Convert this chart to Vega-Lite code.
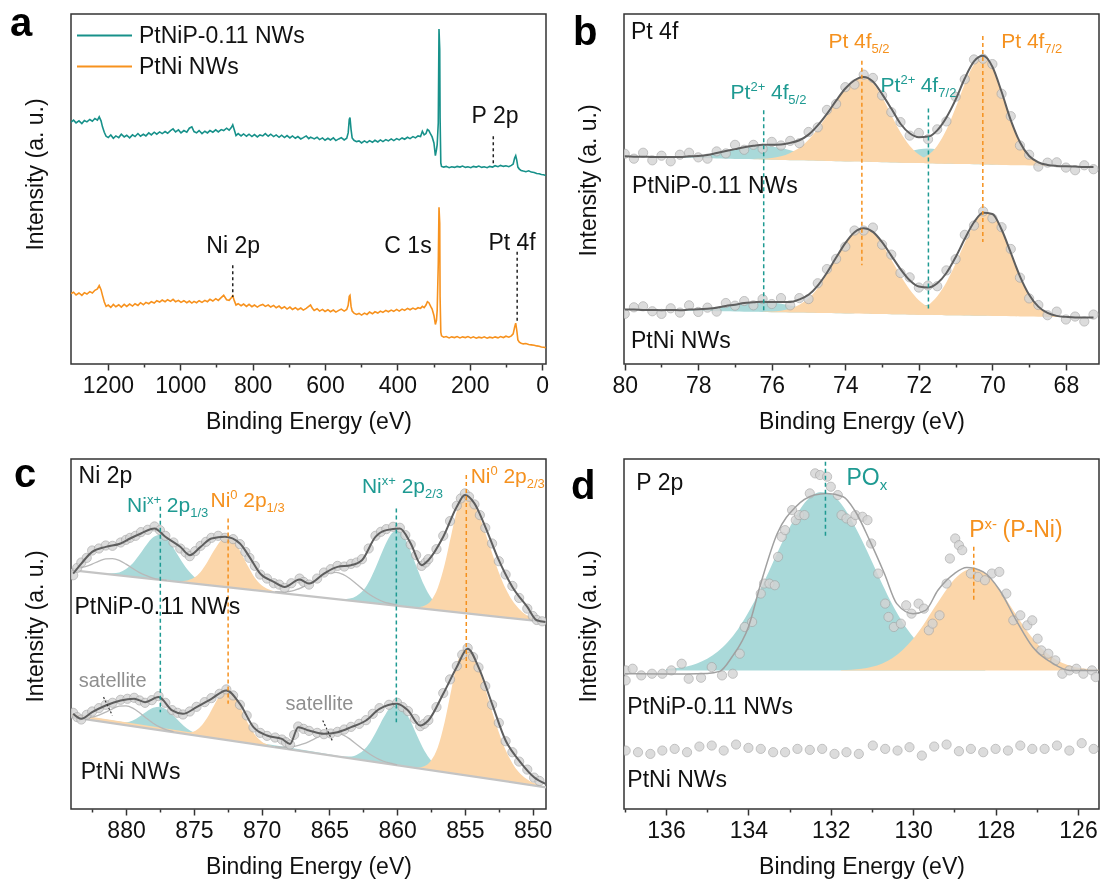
{
"$schema":"https://vega.github.io/schema/vega-lite/v6.json",
"background":"white",
"padding":{"left":9,"top":3,"right":0,"bottom":0},
"config":{
 "font":"Liberation Sans",
 "view":{"stroke":"#333333","strokeWidth":1.5},
 "axis":{"domain":false,"grid":false,"labelFontSize":23,"titleFontSize":23,"titleFontWeight":"normal","labelColor":"#111111","titleColor":"#111111","tickColor":"#333333","tickWidth":1.5,"labelPadding":4,"titlePadding":13,"labelFlush":false,"labelOverlap":false},
 "axisY":{"titlePadding":24,"labels":false,"ticks":false}
},
"resolve":{"scale":{"color":"independent","x":"independent","y":"independent"},"legend":{"color":"independent"},"axis":{"x":"independent","y":"independent"}},
"bounds":"flush",
"columns":2,
"spacing":{"row":95,"column":78},
"datasets":{
"a":[{"x":1302,"t":722,"o":210},{"x":1295,"t":728,"o":214},{"x":1288,"t":720,"o":206},{"x":1280,"t":726,"o":212},{"x":1272,"t":718,"o":205},{"x":1265,"t":727,"o":213},{"x":1258,"t":723,"o":209},{"x":1250,"t":730,"o":216},{"x":1243,"t":725,"o":212},{"x":1236,"t":733,"o":220},{"x":1229,"t":728,"o":224},{"x":1224,"t":738,"o":234},{"x":1219,"t":726,"o":222},{"x":1215,"t":708,"o":205},{"x":1210,"t":692,"o":185},{"x":1205,"t":680,"o":172},{"x":1199,"t":676,"o":176},{"x":1192,"t":684,"o":169},{"x":1185,"t":674,"o":178},{"x":1178,"t":681,"o":171},{"x":1170,"t":676,"o":177},{"x":1163,"t":686,"o":170},{"x":1155,"t":678,"o":178},{"x":1148,"t":683,"o":172},{"x":1140,"t":675,"o":179},{"x":1132,"t":684,"o":173},{"x":1125,"t":679,"o":180},{"x":1117,"t":688,"o":175},{"x":1110,"t":680,"o":183},{"x":1102,"t":686,"o":177},{"x":1095,"t":681,"o":184},{"x":1087,"t":690,"o":180},{"x":1080,"t":684,"o":186},{"x":1072,"t":692,"o":182},{"x":1065,"t":686,"o":189},{"x":1057,"t":693,"o":185},{"x":1050,"t":688,"o":191},{"x":1042,"t":694,"o":186},{"x":1035,"t":689,"o":192},{"x":1027,"t":697,"o":187},{"x":1020,"t":702,"o":193},{"x":1013,"t":693,"o":186},{"x":1005,"t":699,"o":190},{"x":998,"t":690,"o":184},{"x":990,"t":697,"o":189},{"x":982,"t":692,"o":183},{"x":975,"t":704,"o":188},{"x":968,"t":708,"o":182},{"x":962,"t":694,"o":187},{"x":955,"t":690,"o":183},{"x":948,"t":697,"o":189},{"x":940,"t":688,"o":184},{"x":932,"t":695,"o":190},{"x":925,"t":690,"o":186},{"x":918,"t":697,"o":193},{"x":910,"t":692,"o":188},{"x":902,"t":699,"o":195},{"x":895,"t":693,"o":190},{"x":887,"t":700,"o":198},{"x":880,"t":697,"o":205},{"x":872,"t":704,"o":192},{"x":865,"t":698,"o":190},{"x":859,"t":706,"o":198},{"x":855,"t":714,"o":204},{"x":851,"t":700,"o":190},{"x":846,"t":682,"o":176},{"x":840,"t":688,"o":180},{"x":832,"t":681,"o":174},{"x":825,"t":687,"o":179},{"x":817,"t":680,"o":172},{"x":810,"t":686,"o":178},{"x":802,"t":679,"o":171},{"x":795,"t":685,"o":176},{"x":787,"t":678,"o":170},{"x":780,"t":684,"o":175},{"x":772,"t":681,"o":178},{"x":765,"t":688,"o":172},{"x":757,"t":680,"o":176},{"x":750,"t":686,"o":170},{"x":742,"t":679,"o":175},{"x":735,"t":684,"o":168},{"x":727,"t":677,"o":173},{"x":720,"t":683,"o":166},{"x":712,"t":676,"o":171},{"x":705,"t":682,"o":164},{"x":697,"t":675,"o":170},{"x":690,"t":681,"o":163},{"x":682,"t":674,"o":168},{"x":675,"t":679,"o":162},{"x":667,"t":672,"o":167},{"x":660,"t":676,"o":161},{"x":652,"t":681,"o":166},{"x":645,"t":673,"o":172},{"x":640,"t":677,"o":176},{"x":635,"t":675,"o":166},{"x":630,"t":672,"o":160},{"x":622,"t":677,"o":165},{"x":615,"t":670,"o":158},{"x":607,"t":675,"o":163},{"x":600,"t":668,"o":157},{"x":592,"t":674,"o":162},{"x":585,"t":669,"o":156},{"x":577,"t":675,"o":161},{"x":570,"t":667,"o":155},{"x":562,"t":672,"o":160},{"x":555,"t":676,"o":164},{"x":547,"t":669,"o":158},{"x":540,"t":674,"o":163},{"x":536,"t":690,"o":175},{"x":533,"t":730,"o":202},{"x":531,"t":736,"o":205},{"x":528,"t":700,"o":172},{"x":525,"t":675,"o":158},{"x":520,"t":668,"o":152},{"x":513,"t":664,"o":148},{"x":506,"t":666,"o":151},{"x":499,"t":660,"o":146},{"x":491,"t":666,"o":152},{"x":484,"t":661,"o":148},{"x":477,"t":667,"o":155},{"x":469,"t":662,"o":150},{"x":462,"t":668,"o":156},{"x":454,"t":663,"o":152},{"x":447,"t":669,"o":158},{"x":440,"t":664,"o":154},{"x":432,"t":670,"o":160},{"x":425,"t":666,"o":156},{"x":417,"t":672,"o":161},{"x":410,"t":667,"o":157},{"x":402,"t":673,"o":163},{"x":395,"t":669,"o":158},{"x":387,"t":675,"o":164},{"x":380,"t":671,"o":160},{"x":372,"t":677,"o":166},{"x":365,"t":673,"o":162},{"x":357,"t":679,"o":167},{"x":350,"t":675,"o":163},{"x":343,"t":681,"o":168},{"x":336,"t":679,"o":166},{"x":331,"t":695,"o":172},{"x":326,"t":684,"o":168},{"x":321,"t":688,"o":176},{"x":317,"t":700,"o":186},{"x":313,"t":697,"o":183},{"x":308,"t":686,"o":172},{"x":304,"t":678,"o":164},{"x":299,"t":660,"o":145},{"x":295,"t":622,"o":118},{"x":292,"t":640,"o":130},{"x":290,"t":655,"o":160},{"x":287,"t":720,"o":300},{"x":285,"t":1000,"o":468},{"x":283,"t":940,"o":420},{"x":282,"t":735,"o":200},{"x":280,"t":600,"o":95},{"x":278,"t":590,"o":84},{"x":272,"t":588,"o":80},{"x":265,"t":590,"o":82},{"x":257,"t":586,"o":78},{"x":250,"t":589,"o":81},{"x":242,"t":587,"o":79},{"x":235,"t":590,"o":82},{"x":227,"t":588,"o":78},{"x":220,"t":591,"o":81},{"x":212,"t":587,"o":79},{"x":205,"t":589,"o":82},{"x":197,"t":586,"o":78},{"x":190,"t":590,"o":81},{"x":182,"t":588,"o":77},{"x":175,"t":591,"o":80},{"x":167,"t":587,"o":78},{"x":160,"t":589,"o":81},{"x":152,"t":586,"o":77},{"x":145,"t":590,"o":80},{"x":137,"t":588,"o":78},{"x":130,"t":592,"o":81},{"x":122,"t":589,"o":78},{"x":115,"t":593,"o":82},{"x":107,"t":590,"o":79},{"x":100,"t":592,"o":83},{"x":92,"t":589,"o":80},{"x":85,"t":593,"o":84},{"x":80,"t":597,"o":90},{"x":76,"t":615,"o":110},{"x":73,"t":622,"o":122},{"x":70,"t":608,"o":100},{"x":67,"t":588,"o":72},{"x":63,"t":582,"o":65},{"x":58,"t":578,"o":62},{"x":52,"t":576,"o":60},{"x":45,"t":574,"o":61},{"x":37,"t":577,"o":58},{"x":30,"t":573,"o":57},{"x":22,"t":572,"o":56},{"x":15,"t":569,"o":54},{"x":8,"t":568,"o":53},{"x":2,"t":566,"o":51},{"x":-4,"t":565,"o":50},{"x":-10,"t":563,"o":49}],
"aRule":[{"x":135,"y":680,"y2":595},{"x":855,"y":295,"y2":200},{"x":69,"y":335,"y2":120}],
"aText":[{"x":195,"y":720,"t":"P 2p"},{"x":928,"y":330,"t":"Ni 2p"},{"x":436,"y":332,"t":"C 1s"},{"x":148.5,"y":340,"t":"Pt 4f"}],
"b":[{"x":80,"fu":630,"fl":165,"ru":638,"rl":152},{"x":79.75,"fu":629,"fl":165,"ru":623,"rl":172},{"x":79.5,"fu":629,"fl":164,"ru":641,"rl":175},{"x":79.25,"fu":628,"fl":164,"ru":618,"rl":160},{"x":79,"fu":628,"fl":163,"ru":632,"rl":152},{"x":78.75,"fu":628,"fl":164,"ru":615,"rl":169},{"x":78.5,"fu":628,"fl":163,"ru":635,"rl":156},{"x":78.25,"fu":630,"fl":165,"ru":641,"rl":178},{"x":78,"fu":631,"fl":166,"ru":627,"rl":158},{"x":77.75,"fu":634,"fl":168,"ru":623,"rl":171},{"x":77.5,"fu":640,"fl":171,"ru":645,"rl":159},{"x":77.25,"fu":646,"fl":176,"ru":639,"rl":185},{"x":77,"fu":652,"fl":180,"ru":665,"rl":177},{"x":76.75,"fu":658,"fl":185,"ru":650,"rl":191},{"x":76.5,"fu":662,"fl":187,"ru":665,"rl":178},{"x":76.25,"fu":665,"fl":189,"ru":653,"rl":197},{"x":76,"fu":665,"fl":188,"ru":674,"rl":182},{"x":75.75,"fu":666,"fl":188,"ru":663,"rl":200},{"x":75.5,"fu":671,"fl":188,"ru":677,"rl":178},{"x":75.25,"fu":679,"fl":196,"ru":670,"rl":200},{"x":75,"fu":696,"fl":210,"ru":704,"rl":197},{"x":74.75,"fu":724,"fl":238,"ru":718,"rl":245},{"x":74.5,"fu":759,"fl":277,"ru":771,"rl":288},{"x":74.25,"fu":799,"fl":323,"ru":789,"rl":319},{"x":74,"fu":836,"fl":367,"ru":840,"rl":356},{"x":73.75,"fu":861,"fl":400,"ru":848,"rl":405},{"x":73.5,"fu":871,"fl":412,"ru":878,"rl":405},{"x":73.25,"fu":857,"fl":401,"ru":868,"rl":414},{"x":73,"fu":819,"fl":370,"ru":815,"rl":362},{"x":72.75,"fu":775,"fl":329,"ru":764,"rl":332},{"x":72.5,"fu":729,"fl":288,"ru":734,"rl":276},{"x":72.25,"fu":700,"fl":254,"ru":693,"rl":263},{"x":72,"fu":688,"fl":235,"ru":701,"rl":232},{"x":71.75,"fu":690,"fl":232,"ru":682,"rl":238},{"x":71.5,"fu":709,"fl":245,"ru":712,"rl":236},{"x":71.25,"fu":748,"fl":276,"ru":736,"rl":284},{"x":71,"fu":802,"fl":324,"ru":811,"rl":318},{"x":70.75,"fu":867,"fl":380,"ru":864,"rl":392},{"x":70.5,"fu":918,"fl":430,"ru":924,"rl":420},{"x":70.25,"fu":935,"fl":459,"ru":926,"rl":463},{"x":70,"fu":902,"fl":455,"ru":910,"rl":442},{"x":69.75,"fu":826,"fl":408,"ru":820,"rl":415},{"x":69.5,"fu":740,"fl":338,"ru":752,"rl":349},{"x":69.25,"fu":673,"fl":266,"ru":663,"rl":262},{"x":69,"fu":631,"fl":210,"ru":635,"rl":199},{"x":68.75,"fu":612,"fl":174,"ru":599,"rl":179},{"x":68.5,"fu":604,"fl":155,"ru":611,"rl":148},{"x":68.25,"fu":601,"fl":146,"ru":612,"rl":159},{"x":68,"fu":600,"fl":143,"ru":596,"rl":135},{"x":67.75,"fu":599,"fl":141,"ru":588,"rl":144},{"x":67.5,"fu":598,"fl":141,"ru":603,"rl":129},{"x":67.25,"fu":598,"fl":141,"ru":591,"rl":150}],
"bT":[{"c":"t1u","x":78.75,"y":627.8,"b":626.8},{"c":"t1u","x":78.5,"y":628.2,"b":626.2},{"c":"t1u","x":78.25,"y":629.6,"b":625.6},{"c":"t1u","x":78,"y":630.9,"b":624.9},{"c":"t1u","x":77.75,"y":634.3,"b":624.3},{"c":"t1u","x":77.5,"y":639.7,"b":623.7},{"c":"t1u","x":77.25,"y":646,"b":623},{"c":"t1u","x":77,"y":652.4,"b":622.4},{"c":"t1u","x":76.75,"y":657.8,"b":621.8},{"c":"t1u","x":76.5,"y":661.1,"b":621.1},{"c":"t1u","x":76.25,"y":662.5,"b":620.5},{"c":"t1u","x":76,"y":659.9,"b":619.9},{"c":"t1u","x":75.75,"y":655.2,"b":619.2},{"c":"t1u","x":75.5,"y":648.6,"b":618.6},{"c":"t1u","x":75.25,"y":641,"b":618},{"c":"t1u","x":75,"y":633.3,"b":617.3},{"c":"t1u","x":74.75,"y":626.7,"b":616.7},{"c":"t1u","x":74.5,"y":622.1,"b":616.1},{"c":"t1u","x":74.25,"y":619.4,"b":615.4},{"c":"t1u","x":74,"y":616.8,"b":614.8},{"c":"t1u","x":73.75,"y":615.2,"b":614.2},
{"c":"t2u","x":73.75,"y":615.2,"b":614.2},{"c":"t2u","x":73.5,"y":615.5,"b":613.5},{"c":"t2u","x":73.25,"y":617.9,"b":612.9},{"c":"t2u","x":73,"y":621.3,"b":612.3},{"c":"t2u","x":72.75,"y":627.6,"b":611.6},{"c":"t2u","x":72.5,"y":636,"b":611},{"c":"t2u","x":72.25,"y":645.4,"b":610.4},{"c":"t2u","x":72,"y":651.7,"b":609.7},{"c":"t2u","x":71.75,"y":654.1,"b":609.1},{"c":"t2u","x":71.5,"y":650.5,"b":608.5},{"c":"t2u","x":71.25,"y":642.8,"b":607.8},{"c":"t2u","x":71,"y":632.2,"b":607.2},{"c":"t2u","x":70.75,"y":622.6,"b":606.6},{"c":"t2u","x":70.5,"y":614.9,"b":605.9},{"c":"t2u","x":70.25,"y":610.3,"b":605.3},{"c":"t2u","x":70,"y":606.7,"b":604.7},{"c":"t2u","x":69.75,"y":605,"b":604},
{"c":"t1l","x":78.75,"y":163.6,"b":162.6},{"c":"t1l","x":78.5,"y":163.1,"b":162.1},{"c":"t1l","x":78.25,"y":164.6,"b":161.6},{"c":"t1l","x":78,"y":166.2,"b":161.2},{"c":"t1l","x":77.75,"y":167.7,"b":160.7},{"c":"t1l","x":77.5,"y":171.2,"b":160.2},{"c":"t1l","x":77.25,"y":175.7,"b":159.7},{"c":"t1l","x":77,"y":180.2,"b":159.2},{"c":"t1l","x":76.75,"y":184.8,"b":158.8},{"c":"t1l","x":76.5,"y":187.3,"b":158.3},{"c":"t1l","x":76.25,"y":187.8,"b":157.8},{"c":"t1l","x":76,"y":186.3,"b":157.3},{"c":"t1l","x":75.75,"y":182.8,"b":156.8},{"c":"t1l","x":75.5,"y":177.3,"b":156.3},{"c":"t1l","x":75.25,"y":171.9,"b":155.9},{"c":"t1l","x":75,"y":166.4,"b":155.4},{"c":"t1l","x":74.75,"y":161.9,"b":154.9},{"c":"t1l","x":74.5,"y":159.4,"b":154.4},{"c":"t1l","x":74.25,"y":156.9,"b":153.9},{"c":"t1l","x":74,"y":154.5,"b":153.5},{"c":"t1l","x":73.75,"y":154,"b":153},
{"c":"t2l","x":73.5,"y":153.5,"b":152.5},{"c":"t2l","x":73.25,"y":155,"b":152},{"c":"t2l","x":73,"y":157.5,"b":151.5},{"c":"t2l","x":72.75,"y":162.1,"b":151.1},{"c":"t2l","x":72.5,"y":167.6,"b":150.6},{"c":"t2l","x":72.25,"y":173.1,"b":150.1},{"c":"t2l","x":72,"y":177.6,"b":149.6},{"c":"t2l","x":71.75,"y":179.1,"b":149.1},{"c":"t2l","x":71.5,"y":176.7,"b":148.7},{"c":"t2l","x":71.25,"y":171.2,"b":148.2},{"c":"t2l","x":71,"y":164.7,"b":147.7},{"c":"t2l","x":70.75,"y":158.2,"b":147.2},{"c":"t2l","x":70.5,"y":152.7,"b":146.7},{"c":"t2l","x":70.25,"y":149.3,"b":146.3},{"c":"t2l","x":70,"y":146.8,"b":145.8}],
"bO":[{"c":"o1u","x":76.5,"y":622.1,"b":621.1},{"c":"o1u","x":76.25,"y":622.5,"b":620.5},{"c":"o1u","x":76,"y":624.9,"b":619.9},{"c":"o1u","x":75.75,"y":630.2,"b":619.2},{"c":"o1u","x":75.5,"y":640.6,"b":618.6},{"c":"o1u","x":75.25,"y":656,"b":618},{"c":"o1u","x":75,"y":680.3,"b":617.3},{"c":"o1u","x":74.75,"y":713.7,"b":616.7},{"c":"o1u","x":74.5,"y":753.1,"b":616.1},{"c":"o1u","x":74.25,"y":795.4,"b":615.4},{"c":"o1u","x":74,"y":833.8,"b":614.8},{"c":"o1u","x":73.75,"y":859.2,"b":614.2},{"c":"o1u","x":73.5,"y":868.5,"b":613.5},{"c":"o1u","x":73.25,"y":851.9,"b":612.9},{"c":"o1u","x":73,"y":810.3,"b":612.3},{"c":"o1u","x":72.75,"y":755.6,"b":611.6},{"c":"o1u","x":72.5,"y":703,"b":611},{"c":"o1u","x":72.25,"y":662.4,"b":610.4},{"c":"o1u","x":72,"y":635.7,"b":609.7},{"c":"o1u","x":71.75,"y":620.1,"b":609.1},{"c":"o1u","x":71.5,"y":612.5,"b":608.5},{"c":"o1u","x":71.25,"y":609.8,"b":607.8},
{"c":"o2u","x":72.5,"y":612,"b":611},{"c":"o2u","x":72.25,"y":613.4,"b":610.4},{"c":"o2u","x":72,"y":619.7,"b":609.7},{"c":"o2u","x":71.75,"y":634.1,"b":609.1},{"c":"o2u","x":71.5,"y":662.5,"b":608.5},{"c":"o2u","x":71.25,"y":710.8,"b":607.8},{"c":"o2u","x":71,"y":777.2,"b":607.2},{"c":"o2u","x":70.75,"y":850.6,"b":606.6},{"c":"o2u","x":70.5,"y":908.9,"b":605.9},{"c":"o2u","x":70.25,"y":930.3,"b":605.3},{"c":"o2u","x":70,"y":899.7,"b":604.7},{"c":"o2u","x":69.75,"y":825,"b":604},{"c":"o2u","x":69.5,"y":740.4,"b":603.4},{"c":"o2u","x":69.25,"y":672.8,"b":602.8},{"c":"o2u","x":69,"y":631.1,"b":602.1},{"c":"o2u","x":68.75,"y":611.5,"b":601.5},{"c":"o2u","x":68.5,"y":603.9,"b":600.9},{"c":"o2u","x":68.25,"y":601.2,"b":600.2},
{"c":"o1l","x":76.25,"y":158.8,"b":157.8},{"c":"o1l","x":76,"y":159.3,"b":157.3},{"c":"o1l","x":75.75,"y":161.8,"b":156.8},{"c":"o1l","x":75.5,"y":167.3,"b":156.3},{"c":"o1l","x":75.25,"y":179.9,"b":155.9},{"c":"o1l","x":75,"y":199.4,"b":155.4},{"c":"o1l","x":74.75,"y":230.9,"b":154.9},{"c":"o1l","x":74.5,"y":272.4,"b":154.4},{"c":"o1l","x":74.25,"y":319.9,"b":153.9},{"c":"o1l","x":74,"y":365.5,"b":153.5},{"c":"o1l","x":73.75,"y":399,"b":153},{"c":"o1l","x":73.5,"y":410.5,"b":152.5},{"c":"o1l","x":73.25,"y":398,"b":152},{"c":"o1l","x":73,"y":363.5,"b":151.5},{"c":"o1l","x":72.75,"y":317.1,"b":151.1},{"c":"o1l","x":72.5,"y":268.6,"b":150.6},{"c":"o1l","x":72.25,"y":226.1,"b":150.1},{"c":"o1l","x":72,"y":193.6,"b":149.6},{"c":"o1l","x":71.75,"y":173.1,"b":149.1},{"c":"o1l","x":71.5,"y":159.7,"b":148.7},{"c":"o1l","x":71.25,"y":153.2,"b":148.2},{"c":"o1l","x":71,"y":149.7,"b":147.7},{"c":"o1l","x":70.75,"y":148.2,"b":147.2},
{"c":"o2l","x":72.75,"y":152.1,"b":151.1},{"c":"o2l","x":72.5,"y":152.6,"b":150.6},{"c":"o2l","x":72.25,"y":155.1,"b":150.1},{"c":"o2l","x":72,"y":162.6,"b":149.6},{"c":"o2l","x":71.75,"y":178.1,"b":149.1},{"c":"o2l","x":71.5,"y":205.7,"b":148.7},{"c":"o2l","x":71.25,"y":248.2,"b":148.2},{"c":"o2l","x":71,"y":304.7,"b":147.7},{"c":"o2l","x":70.75,"y":368.2,"b":147.2},{"c":"o2l","x":70.5,"y":423.7,"b":146.7},{"c":"o2l","x":70.25,"y":456.3,"b":146.3},{"c":"o2l","x":70,"y":453.8,"b":145.8},{"c":"o2l","x":69.75,"y":408.3,"b":145.3},{"c":"o2l","x":69.5,"y":337.8,"b":144.8},{"c":"o2l","x":69.25,"y":266.3,"b":144.3},{"c":"o2l","x":69,"y":209.8,"b":143.8},{"c":"o2l","x":68.75,"y":174.4,"b":143.4},{"c":"o2l","x":68.5,"y":154.9,"b":142.9},{"c":"o2l","x":68.25,"y":146.4,"b":142.4},{"c":"o2l","x":68,"y":142.9,"b":141.9}],
"bRule":[{"k":"t","x":76.22,"y":770,"y2":155},{"k":"t","x":71.74,"y":775,"y2":160},{"k":"o","x":73.55,"y":920,"y2":300},{"k":"o","x":70.26,"y":995,"y2":370}],
"bText":[{"k":"k","r":"L","x":79.83,"y":985,"t":"Pt 4f"},{"k":"k","r":"L","x":79.8,"y":520,"t":"PtNiP-0.11 NWs"},{"k":"k","r":"L","x":79.83,"y":50,"t":"PtNi NWs"},{"k":"o","r":"P","x":74.46,"y":960,"t":"Pt 4f"},{"k":"o","r":"S","x":73.29,"y":945,"t":"5/2"},{"k":"o","r":"P","x":69.76,"y":960,"t":"Pt 4f"},{"k":"o","r":"S","x":68.59,"y":945,"t":"7/2"},{"k":"t","r":"P","x":77.12,"y":805,"t":"Pt"},{"k":"t","r":"S","x":76.58,"y":829,"t":"2+"},{"k":"t","r":"P","x":76.02,"y":805,"t":"4f"},{"k":"t","r":"S","x":75.55,"y":790,"t":"5/2"},{"k":"t","r":"P","x":73.04,"y":825,"t":"Pt"},{"k":"t","r":"S","x":72.5,"y":849,"t":"2+"},{"k":"t","r":"P","x":71.95,"y":825,"t":"4f"},{"k":"t","r":"S","x":71.47,"y":810,"t":"7/2"}],
"cT":[{"c":"t1u","x":881.5,"y":705,"b":704},{"c":"t1u","x":881,"y":705.8,"b":701.8},{"c":"t1u","x":880.5,"y":708.5,"b":699.5},{"c":"t1u","x":880,"y":718.3,"b":697.3},{"c":"t1u","x":879.5,"y":736.1,"b":695.1},{"c":"t1u","x":879,"y":761.9,"b":692.9},{"c":"t1u","x":878.5,"y":790.7,"b":690.7},{"c":"t1u","x":878,"y":813.5,"b":688.5},{"c":"t1u","x":877.5,"y":821.3,"b":686.3},{"c":"t1u","x":877,"y":809,"b":684},{"c":"t1u","x":876.5,"y":781.8,"b":681.8},{"c":"t1u","x":876,"y":748.6,"b":679.6},{"c":"t1u","x":875.5,"y":718.4,"b":677.4},{"c":"t1u","x":875,"y":696.2,"b":675.2},{"c":"t1u","x":874.5,"y":682,"b":673},{"c":"t1u","x":874,"y":674.8,"b":670.8},{"c":"t1u","x":873.5,"y":669.5,"b":668.5},
{"c":"t2u","x":864,"y":628.5,"b":626.5},{"c":"t2u","x":863.5,"y":630.2,"b":624.2},{"c":"t2u","x":863,"y":638,"b":622},{"c":"t2u","x":862.5,"y":654.8,"b":619.8},{"c":"t2u","x":862,"y":686.6,"b":617.6},{"c":"t2u","x":861.5,"y":731.4,"b":615.4},{"c":"t2u","x":861,"y":780.2,"b":613.2},{"c":"t2u","x":860.5,"y":820,"b":611},{"c":"t2u","x":860,"y":833.7,"b":608.7},{"c":"t2u","x":859.5,"y":815.5,"b":606.5},{"c":"t2u","x":859,"y":771.3,"b":604.3},{"c":"t2u","x":858.5,"y":718.1,"b":602.1},{"c":"t2u","x":858,"y":668.9,"b":599.9},{"c":"t2u","x":857.5,"y":632.7,"b":597.7},{"c":"t2u","x":857,"y":611.4,"b":595.4},{"c":"t2u","x":856.5,"y":599.2,"b":593.2},{"c":"t2u","x":856,"y":593,"b":591},
{"c":"t1l","x":881,"y":258,"b":257},{"c":"t1l","x":880.5,"y":257,"b":254},{"c":"t1l","x":880,"y":259,"b":251},{"c":"t1l","x":879.5,"y":265,"b":248},{"c":"t1l","x":879,"y":277,"b":245},{"c":"t1l","x":878.5,"y":291,"b":242},{"c":"t1l","x":878,"y":303,"b":239},{"c":"t1l","x":877.5,"y":306,"b":236},{"c":"t1l","x":877,"y":297,"b":233},{"c":"t1l","x":876.5,"y":279,"b":230},{"c":"t1l","x":876,"y":259,"b":227},{"c":"t1l","x":875.5,"y":241,"b":224},{"c":"t1l","x":875,"y":229,"b":221},{"c":"t1l","x":874.5,"y":221,"b":218},{"c":"t1l","x":874,"y":216,"b":215},
{"c":"t2l","x":864,"y":157,"b":155},{"c":"t2l","x":863.5,"y":157,"b":152},{"c":"t2l","x":863,"y":162,"b":149},{"c":"t2l","x":862.5,"y":175,"b":146},{"c":"t2l","x":862,"y":199,"b":143},{"c":"t2l","x":861.5,"y":235,"b":140},{"c":"t2l","x":861,"y":274,"b":137},{"c":"t2l","x":860.5,"y":305,"b":134},{"c":"t2l","x":860,"y":315,"b":131},{"c":"t2l","x":859.5,"y":299,"b":128},{"c":"t2l","x":859,"y":262,"b":125},{"c":"t2l","x":858.5,"y":217,"b":122},{"c":"t2l","x":858,"y":175,"b":119},{"c":"t2l","x":857.5,"y":145,"b":116},{"c":"t2l","x":857,"y":126,"b":113},{"c":"t2l","x":856.5,"y":115,"b":110},{"c":"t2l","x":856,"y":109,"b":107},
{"c":"btl","x":884,"y":282,"b":275},{"c":"btl","x":880,"y":259,"b":251},{"c":"btl","x":875,"y":229,"b":221},{"c":"btl","x":870,"y":197,"b":191},{"c":"btl","x":866,"y":171,"b":167},{"c":"btl","x":863,"y":149,"b":149}],
"cO":[{"c":"o1u","x":876,"y":681.6,"b":679.6},{"c":"o1u","x":875.5,"y":684.4,"b":677.4},{"c":"o1u","x":875,"y":692.2,"b":675.2},{"c":"o1u","x":874.5,"y":710,"b":673},{"c":"o1u","x":874,"y":739.8,"b":670.8},{"c":"o1u","x":873.5,"y":774.5,"b":668.5},{"c":"o1u","x":873,"y":804.3,"b":666.3},{"c":"o1u","x":872.5,"y":814.1,"b":664.1},{"c":"o1u","x":872,"y":799.9,"b":661.9},{"c":"o1u","x":871.5,"y":765.7,"b":659.7},{"c":"o1u","x":871,"y":726.5,"b":657.5},{"c":"o1u","x":870.5,"y":692.2,"b":655.2},{"c":"o1u","x":870,"y":670,"b":653},{"c":"o1u","x":869.5,"y":657.8,"b":650.8},{"c":"o1u","x":869,"y":650.6,"b":648.6},
{"c":"o2u","x":858.5,"y":604.1,"b":602.1},{"c":"o2u","x":858,"y":608.9,"b":599.9},{"c":"o2u","x":857.5,"y":623.7,"b":597.7},{"c":"o2u","x":857,"y":662.4,"b":595.4},{"c":"o2u","x":856.5,"y":731.2,"b":593.2},{"c":"o2u","x":856,"y":822,"b":591},{"c":"o2u","x":855.5,"y":904.8,"b":588.8},{"c":"o2u","x":855,"y":936.6,"b":586.6},{"c":"o2u","x":854.5,"y":921.4,"b":584.4},{"c":"o2u","x":854,"y":882.2,"b":582.2},{"c":"o2u","x":853.5,"y":826.9,"b":579.9},{"c":"o2u","x":853,"y":766.7,"b":577.7},{"c":"o2u","x":852.5,"y":708.5,"b":575.5},{"c":"o2u","x":852,"y":660.3,"b":573.3},{"c":"o2u","x":851.5,"y":624.1,"b":571.1},{"c":"o2u","x":851,"y":598.9,"b":568.9},{"c":"o2u","x":850.5,"y":581.6,"b":566.6},{"c":"o2u","x":850,"y":571.4,"b":564.4},{"c":"o2u","x":849.5,"y":565.2,"b":562.2},{"c":"o2u","x":849,"y":561,"b":560},
{"c":"o1l","x":876,"y":228,"b":227},{"c":"o1l","x":875.5,"y":228,"b":224},{"c":"o1l","x":875,"y":232,"b":221},{"c":"o1l","x":874.5,"y":247,"b":218},{"c":"o1l","x":874,"y":274,"b":215},{"c":"o1l","x":873.5,"y":311,"b":212},{"c":"o1l","x":873,"y":344,"b":209},{"c":"o1l","x":872.5,"y":356,"b":206},{"c":"o1l","x":872,"y":338,"b":203},{"c":"o1l","x":871.5,"y":299,"b":200},{"c":"o1l","x":871,"y":256,"b":197},{"c":"o1l","x":870.5,"y":223,"b":194},{"c":"o1l","x":870,"y":202,"b":191},{"c":"o1l","x":869.5,"y":192,"b":188},{"c":"o1l","x":869,"y":186,"b":185},
{"c":"o2l","x":858.5,"y":124,"b":122},{"c":"o2l","x":858,"y":128,"b":119},{"c":"o2l","x":857.5,"y":145,"b":116},{"c":"o2l","x":857,"y":185,"b":113},{"c":"o2l","x":856.5,"y":260,"b":110},{"c":"o2l","x":856,"y":358,"b":107},{"c":"o2l","x":855.5,"y":446,"b":104},{"c":"o2l","x":855,"y":480,"b":101},{"c":"o2l","x":854.5,"y":463,"b":98},{"c":"o2l","x":854,"y":420,"b":95},{"c":"o2l","x":853.5,"y":360,"b":92},{"c":"o2l","x":853,"y":293,"b":89},{"c":"o2l","x":852.5,"y":230,"b":86},{"c":"o2l","x":852,"y":177,"b":83},{"c":"o2l","x":851.5,"y":137,"b":80},{"c":"o2l","x":851,"y":109,"b":77},{"c":"o2l","x":850.5,"y":91,"b":74},{"c":"o2l","x":850,"y":79,"b":71},{"c":"o2l","x":849.5,"y":72,"b":68},{"c":"o2l","x":849,"y":66,"b":65},
{"c":"bol","x":884,"y":285,"b":275},{"c":"bol","x":880,"y":260,"b":251},{"c":"bol","x":876,"y":234,"b":227},{"c":"bol","x":872,"y":208,"b":203},{"c":"bol","x":869,"y":187,"b":185},{"c":"bol","x":867,"y":173,"b":173}],
"cS":[{"c":"s1u","x":884,"y":718.1},{"c":"s1u","x":883.5,"y":720.8},{"c":"s1u","x":883,"y":725.6},{"c":"s1u","x":882.5,"y":733.4},{"c":"s1u","x":882,"y":742.2},{"c":"s1u","x":881.5,"y":749},{"c":"s1u","x":881,"y":749.8},{"c":"s1u","x":880.5,"y":744.5},{"c":"s1u","x":880,"y":733.3},{"c":"s1u","x":879.5,"y":720.1},{"c":"s1u","x":879,"y":707.9},{"c":"s1u","x":878.5,"y":698.7},{"c":"s1u","x":878,"y":691.5},{"c":"s1u","x":877.5,"y":687.3},{"c":"s1u","x":877,"y":684.5},
{"c":"s2u","x":869,"y":650.6},{"c":"s2u","x":868.5,"y":650.4},{"c":"s2u","x":868,"y":651.2},{"c":"s2u","x":867.5,"y":656},{"c":"s2u","x":867,"y":663.7},{"c":"s2u","x":866.5,"y":674.5},{"c":"s2u","x":866,"y":687.3},{"c":"s2u","x":865.5,"y":699.1},{"c":"s2u","x":865,"y":706.9},{"c":"s2u","x":864.5,"y":708.7},{"c":"s2u","x":864,"y":702.5},{"c":"s2u","x":863.5,"y":690.2},{"c":"s2u","x":863,"y":674},{"c":"s2u","x":862.5,"y":656.8},{"c":"s2u","x":862,"y":641.6},{"c":"s2u","x":861.5,"y":629.4},{"c":"s2u","x":861,"y":620.2},{"c":"s2u","x":860.5,"y":615},{"c":"s2u","x":860,"y":610.7},
{"c":"s1l","x":883.5,"y":274},{"c":"s1l","x":883,"y":273},{"c":"s1l","x":882.5,"y":275},{"c":"s1l","x":882,"y":281},{"c":"s1l","x":881.5,"y":290},{"c":"s1l","x":881,"y":300},{"c":"s1l","x":880.5,"y":308},{"c":"s1l","x":880,"y":309},{"c":"s1l","x":879.5,"y":302},{"c":"s1l","x":879,"y":288},{"c":"s1l","x":878.5,"y":272},{"c":"s1l","x":878,"y":257},{"c":"s1l","x":877.5,"y":245},{"c":"s1l","x":877,"y":237},{"c":"s1l","x":876.5,"y":232},
{"c":"s2l","x":869,"y":186},{"c":"s2l","x":868.5,"y":185},{"c":"s2l","x":868,"y":185},{"c":"s2l","x":867.5,"y":188},{"c":"s2l","x":867,"y":194},{"c":"s2l","x":866.5,"y":202},{"c":"s2l","x":866,"y":212},{"c":"s2l","x":865.5,"y":222},{"c":"s2l","x":865,"y":228},{"c":"s2l","x":864.5,"y":228},{"c":"s2l","x":864,"y":222},{"c":"s2l","x":863.5,"y":210},{"c":"s2l","x":863,"y":194},{"c":"s2l","x":862.5,"y":178},{"c":"s2l","x":862,"y":164},{"c":"s2l","x":861.5,"y":152},{"c":"s2l","x":861,"y":143},{"c":"s2l","x":860.5,"y":137},{"c":"s2l","x":860,"y":132}],
"cBase":[{"s":"u","x":884.06,"y":715.3},{"s":"u","x":849.02,"y":560},{"s":"l","x":884.06,"y":275.4},{"s":"l","x":849.02,"y":65}],
"cFit":[{"s":"u","x":883.9,"y":705},{"s":"u","x":883.3,"y":735},{"s":"u","x":882.5,"y":770},{"s":"u","x":881.5,"y":785},{"s":"u","x":880.4,"y":795},{"s":"u","x":879.7,"y":810},{"s":"u","x":878.9,"y":825},{"s":"u","x":877.9,"y":840},{"s":"u","x":877.1,"y":815},{"s":"u","x":876,"y":785},{"s":"u","x":875.3,"y":760},{"s":"u","x":874.5,"y":785},{"s":"u","x":873.7,"y":810},{"s":"u","x":872.7,"y":815},{"s":"u","x":871.6,"y":795},{"s":"u","x":870.9,"y":755},{"s":"u","x":870.1,"y":705},{"s":"u","x":869.1,"y":680},{"s":"u","x":868.3,"y":665},{"s":"u","x":867.2,"y":687},{"s":"u","x":866.5,"y":675},{"s":"u","x":865.4,"y":705},{"s":"u","x":864.4,"y":725},{"s":"u","x":863.4,"y":730},{"s":"u","x":862.6,"y":745},{"s":"u","x":861.6,"y":815},{"s":"u","x":860.8,"y":835},{"s":"u","x":859.8,"y":840},{"s":"u","x":859,"y":795},{"s":"u","x":858.2,"y":730},{"s":"u","x":857.7,"y":745},{"s":"u","x":856.6,"y":815},{"s":"u","x":855.6,"y":905},{"s":"u","x":855,"y":940},{"s":"u","x":854.3,"y":915},{"s":"u","x":853.5,"y":845},{"s":"u","x":852.5,"y":745},{"s":"u","x":851.5,"y":665},{"s":"u","x":850.4,"y":605},{"s":"u","x":849.7,"y":565},{"s":"u","x":849.05,"y":560},
{"s":"l","x":883.9,"y":285},{"s":"l","x":883.3,"y":270},{"s":"l","x":882.5,"y":290},{"s":"l","x":881.5,"y":310},{"s":"l","x":880.4,"y":325},{"s":"l","x":879.4,"y":330},{"s":"l","x":878.6,"y":320},{"s":"l","x":877.6,"y":335},{"s":"l","x":876.6,"y":295},{"s":"l","x":875.8,"y":285},{"s":"l","x":874.8,"y":305},{"s":"l","x":873.7,"y":330},{"s":"l","x":872.6,"y":355},{"s":"l","x":871.6,"y":315},{"s":"l","x":870.6,"y":245},{"s":"l","x":869.6,"y":220},{"s":"l","x":868.5,"y":210},{"s":"l","x":867.9,"y":195},{"s":"l","x":867.3,"y":245},{"s":"l","x":866.5,"y":235},{"s":"l","x":865.4,"y":225},{"s":"l","x":864.4,"y":230},{"s":"l","x":863.4,"y":245},{"s":"l","x":862.3,"y":265},{"s":"l","x":861.3,"y":300},{"s":"l","x":860,"y":315},{"s":"l","x":859.2,"y":295},{"s":"l","x":858.3,"y":250},{"s":"l","x":857.7,"y":265},{"s":"l","x":856.6,"y":345},{"s":"l","x":855.6,"y":425},{"s":"l","x":854.8,"y":480},{"s":"l","x":854,"y":425},{"s":"l","x":853,"y":315},{"s":"l","x":852,"y":205},{"s":"l","x":851,"y":145},{"s":"l","x":849.9,"y":95},{"s":"l","x":849.05,"y":75}],
"cRaw":[{"x":883.9,"y":700},{"x":883.6,"y":722},{"x":883.3,"y":738},{"x":882.9,"y":752},{"x":882.5,"y":774},{"x":882,"y":780},{"x":881.5,"y":789},{"x":881,"y":788},{"x":880.4,"y":798},{"x":880,"y":806},{"x":879.7,"y":812},{"x":879.3,"y":818},{"x":878.9,"y":829},{"x":878.4,"y":836},{"x":877.9,"y":846},{"x":877.5,"y":835},{"x":877.1,"y":818},{"x":876.5,"y":798},{"x":876,"y":780},{"x":875.6,"y":768},{"x":875.3,"y":757},{"x":874.9,"y":772},{"x":874.5,"y":788},{"x":874.1,"y":800},{"x":873.7,"y":812},{"x":873.2,"y":818},{"x":872.7,"y":812},{"x":872.1,"y":808},{"x":871.6,"y":793},{"x":871.2,"y":770},{"x":870.9,"y":752},{"x":870.5,"y":728},{"x":870.1,"y":702},{"x":869.6,"y":690},{"x":869.1,"y":676},{"x":868.7,"y":672},{"x":868.3,"y":662},{"x":867.8,"y":676},{"x":867.2,"y":690},{"x":866.9,"y":680},{"x":866.5,"y":672},{"x":865.9,"y":690},{"x":865.4,"y":708},{"x":864.9,"y":718},{"x":864.4,"y":728},{"x":863.9,"y":726},{"x":863.4,"y":734},{"x":863,"y":738},{"x":862.6,"y":748},{"x":862.1,"y":780},{"x":861.6,"y":818},{"x":861.2,"y":830},{"x":860.8,"y":838},{"x":860.3,"y":845},{"x":859.8,"y":842},{"x":859.4,"y":820},{"x":859,"y":792},{"x":858.6,"y":760},{"x":858.2,"y":728},{"x":857.9,"y":738},{"x":857.7,"y":748},{"x":857.1,"y":778},{"x":856.6,"y":818},{"x":856.1,"y":862},{"x":855.6,"y":908},{"x":855.3,"y":930},{"x":855,"y":945},{"x":854.7,"y":935},{"x":854.3,"y":912},{"x":853.9,"y":880},{"x":853.5,"y":842},{"x":853,"y":795},{"x":852.5,"y":742},{"x":852,"y":702},{"x":851.5,"y":668},{"x":851,"y":632},{"x":850.4,"y":600},{"x":850,"y":578},{"x":849.7,"y":566},{"x":849.3,"y":562},
{"x":883.9,"y":288},{"x":883.6,"y":275},{"x":883.3,"y":268},{"x":882.9,"y":282},{"x":882.5,"y":292},{"x":882,"y":302},{"x":881.5,"y":312},{"x":881,"y":318},{"x":880.4,"y":327},{"x":879.9,"y":330},{"x":879.4,"y":333},{"x":879,"y":325},{"x":878.6,"y":318},{"x":878.1,"y":326},{"x":877.6,"y":338},{"x":877.1,"y":318},{"x":876.6,"y":296},{"x":876.2,"y":288},{"x":875.8,"y":283},{"x":875.3,"y":292},{"x":874.8,"y":306},{"x":874.2,"y":320},{"x":873.7,"y":332},{"x":873.1,"y":345},{"x":872.6,"y":358},{"x":872.1,"y":340},{"x":871.6,"y":312},{"x":871.1,"y":280},{"x":870.6,"y":244},{"x":870.1,"y":228},{"x":869.6,"y":219},{"x":869,"y":214},{"x":868.5,"y":208},{"x":868.2,"y":200},{"x":867.9,"y":193},{"x":867.6,"y":222},{"x":867.3,"y":247},{"x":866.9,"y":240},{"x":866.5,"y":234},{"x":865.9,"y":228},{"x":865.4,"y":224},{"x":864.9,"y":226},{"x":864.4,"y":231},{"x":863.9,"y":238},{"x":863.4,"y":246},{"x":862.8,"y":255},{"x":862.3,"y":266},{"x":861.8,"y":285},{"x":861.3,"y":302},{"x":860.6,"y":312},{"x":860,"y":318},{"x":859.6,"y":305},{"x":859.2,"y":293},{"x":858.7,"y":270},{"x":858.3,"y":248},{"x":858,"y":255},{"x":857.7,"y":266},{"x":857.1,"y":305},{"x":856.6,"y":347},{"x":856.1,"y":388},{"x":855.6,"y":428},{"x":855.2,"y":462},{"x":854.8,"y":482},{"x":854.4,"y":455},{"x":854,"y":424},{"x":853.5,"y":368},{"x":853,"y":312},{"x":852.5,"y":258},{"x":852,"y":203},{"x":851.5,"y":170},{"x":851,"y":142},{"x":850.4,"y":118},{"x":849.9,"y":94},{"x":849.5,"y":84}],
"cRule":[{"k":"t","x":877.47,"y":905,"y2":290},{"k":"o","x":872.47,"y":870,"y2":315},{"k":"t","x":860.06,"y":900,"y2":260},{"k":"o","x":854.9,"y":1000,"y2":415}],
"cDot":[{"x":881.66,"y":335,"x2":881.01,"y2":280},{"x":865.49,"y":265,"x2":864.79,"y2":205}],
"cText":[{"k":"k","r":"L","x":883.5,"y":975,"t":"Ni 2p"},{"k":"k","r":"L","x":883.8,"y":585,"t":"PtNiP-0.11 NWs"},{"k":"k","r":"L","x":883.34,"y":90,"t":"PtNi NWs"},{"k":"g","r":"G","x":883.49,"y":365,"t":"satellite"},{"k":"g","r":"G","x":868.23,"y":295,"t":"satellite"},{"k":"t","r":"P","x":879.92,"y":890,"t":"Ni"},{"k":"t","r":"S","x":878.46,"y":914,"t":"x+"},{"k":"t","r":"P","x":876.99,"y":890,"t":"2p"},{"k":"t","r":"S","x":875.27,"y":875,"t":"1/3"},{"k":"o","r":"P","x":873.77,"y":905,"t":"Ni"},{"k":"o","r":"S","x":872.31,"y":929,"t":"0"},{"k":"o","r":"P","x":871.35,"y":905,"t":"2p"},{"k":"o","r":"S","x":869.63,"y":890,"t":"1/3"},{"k":"t","r":"P","x":862.6,"y":945,"t":"Ni"},{"k":"t","r":"S","x":861.14,"y":969,"t":"x+"},{"k":"t","r":"P","x":859.67,"y":945,"t":"2p"},{"k":"t","r":"S","x":857.95,"y":930,"t":"2/3"},{"k":"o","r":"P","x":854.58,"y":975,"t":"Ni"},{"k":"o","r":"S","x":853.12,"y":999,"t":"0"},{"k":"o","r":"P","x":852.16,"y":975,"t":"2p"},{"k":"o","r":"S","x":850.44,"y":960,"t":"2/3"}],
"dT":[{"x":136,"y":419},{"x":135.75,"y":422},{"x":135.5,"y":427},{"x":135.25,"y":436},{"x":135,"y":450},{"x":134.75,"y":471},{"x":134.5,"y":500},{"x":134.25,"y":539},{"x":134,"y":589},{"x":133.75,"y":647},{"x":133.5,"y":712},{"x":133.25,"y":780},{"x":133,"y":843},{"x":132.75,"y":897},{"x":132.5,"y":934},{"x":132.25,"y":949},{"x":132,"y":943},{"x":131.75,"y":914},{"x":131.5,"y":866},{"x":131.25,"y":806},{"x":131,"y":740},{"x":130.75,"y":673},{"x":130.5,"y":611},{"x":130.25,"y":558},{"x":130,"y":515},{"x":129.75,"y":481},{"x":129.5,"y":458},{"x":129.25,"y":441},{"x":129,"y":430},{"x":128.75,"y":424},{"x":128.5,"y":420},{"x":128.25,"y":417}],
"dO":[{"x":131.75,"y":416},{"x":131.5,"y":417},{"x":131.25,"y":420},{"x":131,"y":426},{"x":130.75,"y":436},{"x":130.5,"y":452},{"x":130.25,"y":477},{"x":130,"y":510},{"x":129.75,"y":552},{"x":129.5,"y":600},{"x":129.25,"y":647},{"x":129,"y":688},{"x":128.75,"y":713},{"x":128.5,"y":720},{"x":128.25,"y":705},{"x":128,"y":673},{"x":127.75,"y":629},{"x":127.5,"y":581},{"x":127.25,"y":535},{"x":127,"y":496},{"x":126.75,"y":466},{"x":126.5,"y":445},{"x":126.25,"y":431},{"x":126,"y":423},{"x":125.75,"y":419},{"x":125.5,"y":417}],
"dFit":[{"x":137,"y":405},{"x":136,"y":404},{"x":135,"y":406},{"x":134.7,"y":412},{"x":134.4,"y":455},{"x":134,"y":545},{"x":133.7,"y":675},{"x":133.3,"y":825},{"x":132.85,"y":905},{"x":132.4,"y":940},{"x":132.1,"y":945},{"x":131.7,"y":935},{"x":131.4,"y":890},{"x":131.06,"y":805},{"x":130.7,"y":705},{"x":130.4,"y":615},{"x":130,"y":585},{"x":129.7,"y":595},{"x":129.4,"y":655},{"x":129,"y":705},{"x":128.7,"y":723},{"x":128.3,"y":710},{"x":127.9,"y":655},{"x":127.5,"y":565},{"x":127.1,"y":485},{"x":126.6,"y":435},{"x":126.2,"y":415},{"x":125.5,"y":415}],
"dRaw":[{"x":136.98,"y":385},{"x":136.98,"y":415},{"x":136.81,"y":420},{"x":136.6,"y":400},{"x":136.34,"y":405},{"x":136.09,"y":405},{"x":135.87,"y":415},{"x":135.62,"y":435},{"x":135.45,"y":390},{"x":135.15,"y":393},{"x":134.89,"y":425},{"x":134.64,"y":400},{"x":134.38,"y":405},{"x":134.21,"y":465},{"x":134.09,"y":545},{"x":133.91,"y":560},{"x":133.7,"y":645},{"x":133.62,"y":675},{"x":133.49,"y":675},{"x":133.36,"y":670},{"x":133.28,"y":755},{"x":133.19,"y":815},{"x":133.11,"y":835},{"x":132.94,"y":895},{"x":132.85,"y":865},{"x":132.77,"y":880},{"x":132.64,"y":880},{"x":132.51,"y":945},{"x":132.38,"y":1005},{"x":132.26,"y":1000},{"x":132.09,"y":995},{"x":132,"y":965},{"x":131.83,"y":940},{"x":131.74,"y":880},{"x":131.62,"y":870},{"x":131.49,"y":860},{"x":131.4,"y":880},{"x":131.23,"y":875},{"x":131.11,"y":865},{"x":131.02,"y":795},{"x":130.85,"y":705},{"x":130.68,"y":615},{"x":130.6,"y":575},{"x":130.47,"y":545},{"x":130.3,"y":555},{"x":130.17,"y":610},{"x":130.04,"y":585},{"x":129.87,"y":615},{"x":129.74,"y":600},{"x":129.62,"y":535},{"x":129.53,"y":555},{"x":129.36,"y":580},{"x":129.19,"y":675},{"x":129.11,"y":750},{"x":128.98,"y":810},{"x":128.89,"y":790},{"x":128.81,"y":775},{"x":128.6,"y":705},{"x":128.43,"y":695},{"x":128.26,"y":685},{"x":128.09,"y":705},{"x":127.91,"y":710},{"x":127.74,"y":645},{"x":127.57,"y":565},{"x":127.4,"y":580},{"x":127.23,"y":550},{"x":127.11,"y":565},{"x":126.98,"y":510},{"x":126.89,"y":475},{"x":126.72,"y":465},{"x":126.55,"y":445},{"x":126.38,"y":405},{"x":126.21,"y":415},{"x":126.04,"y":420},{"x":125.87,"y":405},{"x":125.66,"y":415},{"x":125.57,"y":395},
{"x":136.98,"y":175},{"x":136.68,"y":170},{"x":136.38,"y":165},{"x":136.09,"y":175},{"x":135.79,"y":180},{"x":135.49,"y":170},{"x":135.19,"y":187},{"x":134.89,"y":190},{"x":134.6,"y":175},{"x":134.3,"y":193},{"x":134,"y":183},{"x":133.7,"y":180},{"x":133.4,"y":170},{"x":133.11,"y":170},{"x":132.81,"y":180},{"x":132.51,"y":177},{"x":132.21,"y":180},{"x":131.91,"y":165},{"x":131.62,"y":170},{"x":131.32,"y":165},{"x":130.98,"y":190},{"x":130.68,"y":180},{"x":130.38,"y":175},{"x":130.09,"y":185},{"x":129.79,"y":160},{"x":129.49,"y":187},{"x":129.19,"y":193},{"x":128.89,"y":173},{"x":128.6,"y":180},{"x":128.3,"y":170},{"x":128,"y":180},{"x":127.7,"y":175},{"x":127.4,"y":190},{"x":127.11,"y":180},{"x":126.81,"y":180},{"x":126.51,"y":190},{"x":126.21,"y":175},{"x":125.91,"y":197},{"x":125.62,"y":180}],
"dRule":[{"k":"t","x":132.13,"y":1040,"y2":815},{"k":"o","x":128.53,"y":785,"y2":620}],
"dText":[{"k":"k","r":"L","x":136.72,"y":955,"t":"P 2p"},{"k":"k","r":"L","x":136.94,"y":285,"t":"PtNiP-0.11 NWs"},{"k":"k","r":"L","x":136.94,"y":65,"t":"PtNi NWs"},{"k":"t","r":"L","x":131.62,"y":970,"t":"PO"},{"k":"t","r":"S2","x":130.81,"y":955,"t":"x"},{"k":"o","r":"L","x":128.64,"y":815,"t":"P"},{"k":"o","r":"S2","x":128.27,"y":839,"t":"x-"},{"k":"o","r":"L","x":127.83,"y":815,"t":"(P-Ni)"}]
},
"concat":[
{
"width":475,"height":350,
"title":{"text":"a","anchor":"start","frame":"group","fontSize":40,"fontWeight":"bold","color":"#000000","offset":0,"baseline":"alphabetic","dx":-61,"dy":62},
"encoding":{
 "x":{"field":"x","type":"quantitative","scale":{"domain":[-10.7,1302],"reverse":true,"nice":false,"zero":false},"axis":{"title":"Binding Energy (eV)","values":[0,100,200,300,400,500,600,700,800,900,1000,1100,1200],"format":"d","labelExpr":"datum.value % 200 == 0 ? datum.label : ''","tickSize":{"condition":{"test":"datum.value % 200 == 0","value":6},"value":3}}},
 "y":{"field":"y","type":"quantitative","scale":{"domain":[0,1045],"nice":false,"zero":false},"axis":{"title":"Intensity (a. u.)","titleY":160}}
},
"layer":[
 {"data":{"name":"a"},"transform":[{"fold":["t","o"],"as":["s","y"]}],"mark":{"type":"line","strokeWidth":1.6,"clip":true},"encoding":{"color":{"field":"s","type":"nominal","scale":{"domain":["t","o"],"range":["#17918a","#f7921e"]},"legend":{"title":null,"orient":"none","legendX":22,"legendY":10,"padding":0,"labelExpr":"datum.value == 't' ? 'PtNiP-0.11 NWs' : 'PtNi NWs'","labelFontSize":23,"labelColor":"#111111","labelLimit":400,"symbolType":"M-5,0H5","symbolSize":121,"symbolStrokeWidth":2,"labelOffset":23,"rowPadding":7}}}},
 {"data":{"name":"aRule"},"mark":{"type":"rule","color":"#222222","strokeWidth":1.5,"strokeDash":[3,3]},"encoding":{"y2":{"field":"y2"}}},
 {"data":{"name":"aText"},"mark":{"type":"text","align":"left","baseline":"alphabetic","fontSize":23,"color":"#111111"},"encoding":{"text":{"field":"t"}}}
]
},
{
"width":475,"height":350,
"title":{"text":"b","anchor":"start","frame":"group","fontSize":40,"fontWeight":"bold","color":"#000000","offset":0,"baseline":"alphabetic","dx":-51,"dy":71},
"encoding":{
 "x":{"field":"x","type":"quantitative","scale":{"domain":[67.1,80.02],"reverse":true,"nice":false,"zero":false},"axis":{"title":"Binding Energy (eV)","values":[68,69,70,71,72,73,74,75,76,77,78,79,80],"format":"d","labelExpr":"datum.value % 2 == 0 ? datum.label : ''","tickSize":{"condition":{"test":"datum.value % 2 == 0","value":6},"value":3}}},
 "y":{"field":"y","type":"quantitative","scale":{"domain":[0,1062],"nice":false,"zero":false},"axis":{"title":"Intensity (a. u.)","titleY":166}}
},
"layer":[
 {"data":{"name":"bT"},"mark":{"type":"area","color":"#a9d9d9","blend":"multiply","interpolate":"monotone","clip":true},"encoding":{"y2":{"field":"b"},"detail":{"field":"c"}}},
 {"data":{"name":"bO"},"mark":{"type":"area","color":"#fbd6aa","blend":"multiply","interpolate":"monotone","clip":true},"encoding":{"y2":{"field":"b"},"detail":{"field":"c"}}},
 {"data":{"name":"b"},"transform":[{"fold":["ru","rl"],"as":["s","y"]}],"mark":{"type":"point","filled":true,"size":85,"fill":"#d4d4d4","stroke":"#a3a3a3","strokeWidth":0.8,"opacity":0.8,"clip":true}},
 {"data":{"name":"b"},"transform":[{"fold":["fu","fl"],"as":["s","y"]}],"mark":{"type":"line","color":"#5e5e5e","strokeWidth":2,"interpolate":"monotone","clip":true},"encoding":{"detail":{"field":"s"}}},
 {"data":{"name":"bRule"},"mark":{"type":"rule","strokeWidth":1.5,"strokeDash":[4,3]},"encoding":{"y2":{"field":"y2"},"color":{"field":"k","type":"nominal","scale":{"domain":["k","t","o","g"],"range":["#111111","#1e9a92","#f5911e","#8f8f8f"]},"legend":null}}},
 {"data":{"name":"bText"},"transform":[{"filter":"datum.r == 'L'"}],"mark":{"type":"text","align":"left","baseline":"alphabetic","fontSize":23},"encoding":{"text":{"field":"t"},"color":{"field":"k","type":"nominal","legend":null}}},
 {"data":{"name":"bText"},"transform":[{"filter":"datum.r == 'P'"}],"mark":{"type":"text","align":"left","baseline":"alphabetic","fontSize":21},"encoding":{"text":{"field":"t"},"color":{"field":"k","type":"nominal","legend":null}}},
 {"data":{"name":"bText"},"transform":[{"filter":"datum.r == 'S'"}],"mark":{"type":"text","align":"left","baseline":"alphabetic","fontSize":13},"encoding":{"text":{"field":"t"},"color":{"field":"k","type":"nominal","legend":null}}}
]
},
{
"width":475,"height":350,
"title":{"text":"c","anchor":"start","frame":"group","fontSize":40,"fontWeight":"bold","color":"#000000","offset":0,"baseline":"alphabetic","dx":-57,"dy":68},
"encoding":{
 "x":{"field":"x","type":"quantitative","scale":{"domain":[849.02,884.06],"reverse":true,"nice":false,"zero":false},"axis":{"title":"Binding Energy (eV)","values":[850,852.5,855,857.5,860,862.5,865,867.5,870,872.5,875,877.5,880,882.5],"format":"d","labelExpr":"datum.value % 5 == 0 ? datum.label : ''","tickSize":{"condition":{"test":"datum.value % 5 == 0","value":6},"value":3}}},
 "y":{"field":"y","type":"quantitative","scale":{"domain":[0,1048],"nice":false,"zero":false},"axis":{"title":"Intensity (a. u.)","titleY":167}}
},
"layer":[
 {"data":{"name":"cT"},"mark":{"type":"area","color":"#a9d9d9","blend":"multiply","interpolate":"monotone","clip":true},"encoding":{"y2":{"field":"b"},"detail":{"field":"c"}}},
 {"data":{"name":"cO"},"mark":{"type":"area","color":"#fbd6aa","blend":"multiply","interpolate":"monotone","clip":true},"encoding":{"y2":{"field":"b"},"detail":{"field":"c"}}},
 {"data":{"name":"cBase"},"mark":{"type":"line","color":"#c4c4c4","strokeWidth":2.2,"clip":true},"encoding":{"detail":{"field":"s"}}},
 {"data":{"name":"cS"},"mark":{"type":"line","color":"#b8b8b8","strokeWidth":1.3,"interpolate":"monotone","clip":true},"encoding":{"detail":{"field":"c"}}},
 {"data":{"name":"cRaw"},"mark":{"type":"point","filled":true,"size":85,"fill":"#d4d4d4","stroke":"#a3a3a3","strokeWidth":0.8,"opacity":0.8,"clip":true}},
 {"data":{"name":"cFit"},"mark":{"type":"line","color":"#5e5e5e","strokeWidth":2,"interpolate":"monotone","clip":true},"encoding":{"detail":{"field":"s"}}},
 {"data":{"name":"cRule"},"mark":{"type":"rule","strokeWidth":1.5,"strokeDash":[4,3]},"encoding":{"y2":{"field":"y2"},"color":{"field":"k","type":"nominal","scale":{"domain":["k","t","o","g"],"range":["#111111","#1e9a92","#f5911e","#8f8f8f"]},"legend":null}}},
 {"data":{"name":"cDot"},"mark":{"type":"rule","strokeWidth":1.2,"strokeDash":[2,2],"color":"#333333"},"encoding":{"x2":{"field":"x2"},"y2":{"field":"y2"}}},
 {"data":{"name":"cText"},"transform":[{"filter":"datum.r == 'L'"}],"mark":{"type":"text","align":"left","baseline":"alphabetic","fontSize":23},"encoding":{"text":{"field":"t"},"color":{"field":"k","type":"nominal","legend":null}}},
 {"data":{"name":"cText"},"transform":[{"filter":"datum.r == 'G'"}],"mark":{"type":"text","align":"left","baseline":"alphabetic","fontSize":20},"encoding":{"text":{"field":"t"},"color":{"field":"k","type":"nominal","legend":null}}},
 {"data":{"name":"cText"},"transform":[{"filter":"datum.r == 'P'"}],"mark":{"type":"text","align":"left","baseline":"alphabetic","fontSize":21},"encoding":{"text":{"field":"t"},"color":{"field":"k","type":"nominal","legend":null}}},
 {"data":{"name":"cText"},"transform":[{"filter":"datum.r == 'S'"}],"mark":{"type":"text","align":"left","baseline":"alphabetic","fontSize":13},"encoding":{"text":{"field":"t"},"color":{"field":"k","type":"nominal","legend":null}}}
]
},
{
"width":475,"height":350,
"title":{"text":"d","anchor":"start","frame":"group","fontSize":40,"fontWeight":"bold","color":"#000000","offset":0,"baseline":"alphabetic","dx":-53,"dy":80},
"encoding":{
 "x":{"field":"x","type":"quantitative","scale":{"domain":[125.49,137.02],"reverse":true,"nice":false,"zero":false},"axis":{"title":"Binding Energy (eV)","values":[126,127,128,129,130,131,132,133,134,135,136,137],"format":"d","labelExpr":"datum.value % 2 == 0 ? datum.label : ''","tickSize":{"condition":{"test":"datum.value % 2 == 0","value":6},"value":3}}},
 "y":{"field":"y","type":"quantitative","scale":{"domain":[0,1048],"nice":false,"zero":false},"axis":{"title":"Intensity (a. u.)","titleY":167}}
},
"layer":[
 {"data":{"name":"dT"},"mark":{"type":"area","color":"#a9d9d9","blend":"multiply","interpolate":"monotone","clip":true},"encoding":{"y2":{"datum":415}}},
 {"data":{"name":"dO"},"mark":{"type":"area","color":"#fbd6aa","blend":"multiply","interpolate":"monotone","clip":true},"encoding":{"y2":{"datum":415}}},
 {"data":{"name":"dRaw"},"mark":{"type":"point","filled":true,"size":85,"fill":"#d4d4d4","stroke":"#a3a3a3","strokeWidth":0.8,"opacity":0.8,"clip":true}},
 {"data":{"name":"dFit"},"mark":{"type":"line","color":"#a0a0a0","strokeWidth":1.5,"interpolate":"monotone","clip":true}},
 {"data":{"name":"dRule"},"mark":{"type":"rule","strokeWidth":1.5,"strokeDash":[4,3]},"encoding":{"y2":{"field":"y2"},"color":{"field":"k","type":"nominal","scale":{"domain":["k","t","o","g"],"range":["#111111","#1e9a92","#f5911e","#8f8f8f"]},"legend":null}}},
 {"data":{"name":"dText"},"transform":[{"filter":"datum.r == 'L'"}],"mark":{"type":"text","align":"left","baseline":"alphabetic","fontSize":23},"encoding":{"text":{"field":"t"},"color":{"field":"k","type":"nominal","legend":null}}},
 {"data":{"name":"dText"},"transform":[{"filter":"datum.r == 'S2'"}],"mark":{"type":"text","align":"left","baseline":"alphabetic","fontSize":15},"encoding":{"text":{"field":"t"},"color":{"field":"k","type":"nominal","legend":null}}}
]
}
]
}
